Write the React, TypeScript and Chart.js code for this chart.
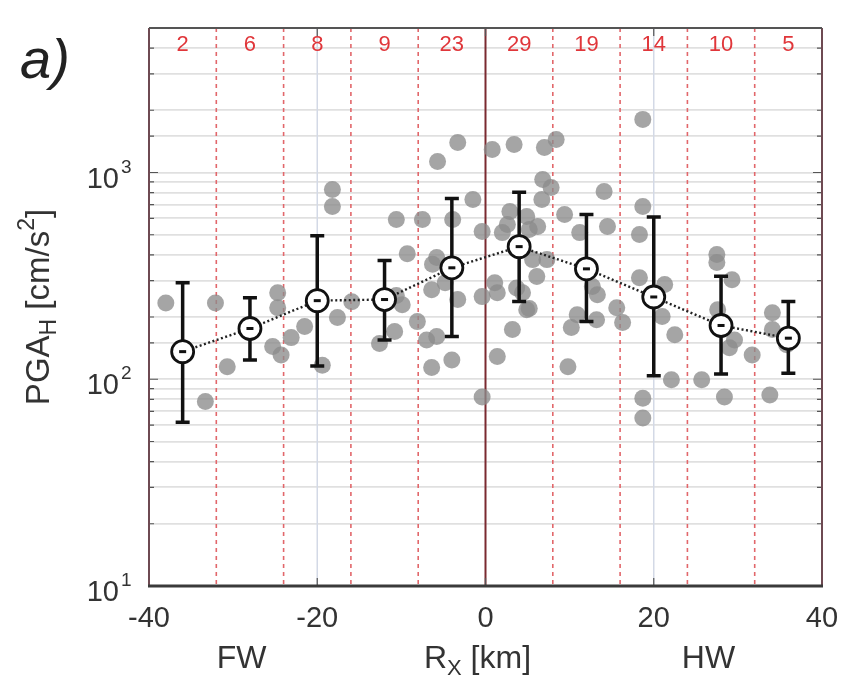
import React, { useEffect, useRef } from "react";
import { Chart, registerables } from "chart.js";

Chart.register(...registerables);

// ---- data ----
const binCenters = [-36, -28, -20, -12, -4, 4, 12, 20, 28, 36];
const binCounts = [2, 6, 8, 9, 23, 29, 19, 14, 10, 5];
const binEdges = [-32, -24, -16, -8, 0, 8, 16, 24, 32];
const meanPGA = [136, 176, 240, 243, 346, 438, 342, 250, 182, 158];
const upperPGA = [293, 248, 495, 375, 748, 803, 626, 610, 315, 238];
const lowerPGA = [62, 124, 116, 155, 161, 238, 190, 104, 106, 107];
const xTickValues = [-40, -20, 0, 20, 40];
const yDecades = [10, 100, 1000];
const yDecadeExp = ["1", "2", "3"];

const recordRx = [
  -38.0, -33.3, -32.1, -30.7, -24.7, -24.7, -25.3, -24.3, -23.1, -21.5,
  -19.4, -18.2, -18.2, -17.6, -15.9, -10.6, -9.3, -10.6, -9.9, -10.8,
  -12.6, -8.1, -7.0, -6.4, -4.0, -7.5, -5.7, -3.3, -1.5, -3.9,
  -5.8, -6.4, -4.8, -3.3, -5.8, -0.4, -0.4, -0.4, 0.8, 1.1,
  1.4, 3.4, 7.0, 8.4, 6.8, 7.8, 6.7, 9.4, 2.9, 2.6,
  4.9, 6.2, 5.2, 2.0, 5.6, 7.3, 6.1, 1.4, 4.4, 4.9,
  3.2, 11.2, 14.5, 14.1, 12.7, 13.3, 10.9, 10.2, 9.8, 13.2,
  15.6, 16.3, 18.7, 18.3, 18.3, 18.7, 18.7, 18.7, 21.3, 21.0,
  22.5, 22.1, 25.7, 27.5, 27.5, 29.3, 27.6, 29.6, 29.0, 28.4,
  31.7, 34.1, 34.1, 33.8, 35.8, -6.3, 5.2, 3.7,
];
const recordPGA = [
  234, 78, 234, 115, 262, 222, 144, 131, 159, 180,
  117, 827, 684, 199, 237, 592, 405, 254, 229, 170,
  149, 190, 155, 114, 124, 592, 1130, 1396, 740, 592,
  388, 271, 293, 243, 161, 518, 251, 82, 1291, 293,
  129, 1367, 1321, 1445, 925, 846, 740, 626, 647, 560,
  612, 548, 530, 512, 379, 379, 314, 262, 262, 217,
  174, 512, 548, 809, 281, 256, 205, 178, 115, 194,
  222, 188, 684, 501, 310, 81, 1807, 65, 287, 201,
  164, 99.5, 99.5, 401, 367, 303, 217, 155, 142, 82,
  131, 210, 174, 84, 147, 360, 220, 276,
];

const FONT = '"Liberation Sans", Arial, Helvetica, sans-serif';

function drawRich(
  ctx: CanvasRenderingContext2D,
  parts: { t: string; size: number; dy: number }[],
  x: number,
  y: number,
  align: "left" | "center" | "right"
) {
  let total = 0;
  const widths = parts.map((p) => {
    ctx.font = `${p.size}px ${FONT}`;
    const w = ctx.measureText(p.t).width;
    total += w;
    return w;
  });
  let cx = align === "left" ? x : align === "center" ? x - total / 2 : x - total;
  ctx.textAlign = "left";
  ctx.textBaseline = "middle";
  parts.forEach((p, i) => {
    ctx.font = `${p.size}px ${FONT}`;
    ctx.fillText(p.t, cx, y + p.dy);
    cx += widths[i];
  });
}

const overlay = {
  id: "overlay",
  beforeDatasetsDraw(chart: any) {
    const { ctx, chartArea: a, scales } = chart;
    const x = scales.x;
    ctx.save();
    ctx.strokeStyle = "#d3d9e6";
    ctx.lineWidth = 1.5;
    [-20, 20].forEach((v) => {
      const px = x.getPixelForValue(v);
      ctx.beginPath();
      ctx.moveTo(px, a.top);
      ctx.lineTo(px, a.bottom);
      ctx.stroke();
    });
    binEdges.forEach((v) => {
      const px = x.getPixelForValue(v);
      ctx.beginPath();
      if (v === 0) {
        ctx.setLineDash([]);
        ctx.strokeStyle = "#7a2a30";
        ctx.lineWidth = 2;
      } else {
        ctx.setLineDash([4, 4]);
        ctx.strokeStyle = "#e2676b";
        ctx.lineWidth = 1.6;
      }
      ctx.moveTo(px, a.top);
      ctx.lineTo(px, a.bottom);
      ctx.stroke();
    });
    ctx.setLineDash([]);
    ctx.restore();
  },
  beforeDatasetDraw(chart: any, args: any) {
    if (args.index !== 0) return;
    const { ctx, scales } = chart;
    const x = scales.x;
    const y = scales.y;
    ctx.save();
    ctx.strokeStyle = "#111";
    ctx.lineWidth = 3.5;
    binCenters.forEach((c, i) => {
      const px = x.getPixelForValue(c);
      const top = y.getPixelForValue(upperPGA[i]);
      const bot = y.getPixelForValue(lowerPGA[i]);
      ctx.beginPath();
      ctx.moveTo(px, top);
      ctx.lineTo(px, bot);
      ctx.moveTo(px - 7, top);
      ctx.lineTo(px + 7, top);
      ctx.moveTo(px - 7, bot);
      ctx.lineTo(px + 7, bot);
      ctx.stroke();
    });
    ctx.restore();
  },
  afterDatasetsDraw(chart: any) {
    const { ctx, scales } = chart;
    const x = scales.x;
    const y = scales.y;
    ctx.save();
    ctx.fillStyle = "#111";
    binCenters.forEach((c, i) => {
      const px = x.getPixelForValue(c);
      const py = y.getPixelForValue(meanPGA[i]);
      ctx.fillRect(px - 3.5, py - 1.5, 7, 3);
    });
    ctx.restore();
  },
  afterDraw(chart: any) {
    const { ctx, chartArea: a, scales } = chart;
    const x = scales.x;
    const y = scales.y;
    ctx.save();
    ctx.strokeStyle = "#555";
    ctx.lineWidth = 1.2;
    y.ticks.forEach((t: any) => {
      const py = y.getPixelForValue(t.value);
      const major = yDecades.includes(t.value);
      const len = major ? 9 : 5;
      ctx.beginPath();
      ctx.moveTo(a.left, py);
      ctx.lineTo(a.left + len, py);
      ctx.moveTo(a.right, py);
      ctx.lineTo(a.right - len, py);
      ctx.stroke();
    });
    xTickValues.forEach((v) => {
      const px = x.getPixelForValue(v);
      ctx.beginPath();
      ctx.moveTo(px, a.bottom);
      ctx.lineTo(px, a.bottom - 8);
      ctx.moveTo(px, a.top);
      ctx.lineTo(px, a.top + 8);
      ctx.stroke();
    });
    ctx.lineWidth = 2;
    ctx.strokeStyle = "#6e4a52";
    ctx.beginPath();
    ctx.moveTo(a.left, a.top);
    ctx.lineTo(a.left, a.bottom);
    ctx.moveTo(a.right, a.top);
    ctx.lineTo(a.right, a.bottom);
    ctx.stroke();
    ctx.strokeStyle = "#555";
    ctx.beginPath();
    ctx.moveTo(a.left, a.top);
    ctx.lineTo(a.right, a.top);
    ctx.stroke();
    ctx.lineWidth = 3;
    ctx.strokeStyle = "#3a3a3a";
    ctx.beginPath();
    ctx.moveTo(a.left - 1, a.bottom);
    ctx.lineTo(a.right + 1, a.bottom);
    ctx.stroke();

    ctx.fillStyle = "#e0363a";
    ctx.font = `22px ${FONT}`;
    ctx.textAlign = "center";
    ctx.textBaseline = "middle";
    binCenters.forEach((c, i) => {
      ctx.fillText(String(binCounts[i]), x.getPixelForValue(c), a.top + 17);
    });

    ctx.fillStyle = "#333";
    ctx.font = `29px ${FONT}`;
    xTickValues.forEach((v) => {
      ctx.fillText(String(v), x.getPixelForValue(v), a.bottom + 33);
    });
    yDecades.forEach((v, i) => {
      const py = y.getPixelForValue(v);
      ctx.font = `29px ${FONT}`;
      ctx.textAlign = "right";
      ctx.fillText("10", a.left - 30, py + 7);
      ctx.font = `19px ${FONT}`;
      ctx.textAlign = "left";
      ctx.fillText(yDecadeExp[i], a.left - 28, py - 5);
    });

    ctx.fillStyle = "#333";
    ctx.font = `32px ${FONT}`;
    ctx.textAlign = "center";
    ctx.fillText("FW", x.getPixelForValue(-29), a.bottom + 73);
    ctx.fillText("HW", x.getPixelForValue(26.5), a.bottom + 73);
    drawRich(
      ctx,
      [
        { t: "R", size: 32, dy: 0 },
        { t: "X", size: 22, dy: 10 },
        { t: " [km]", size: 32, dy: 0 },
      ],
      x.getPixelForValue(0) - 8,
      a.bottom + 73,
      "center"
    );
    ctx.save();
    ctx.translate(40, 307);
    ctx.rotate(-Math.PI / 2);
    drawRich(
      ctx,
      [
        { t: "PGA", size: 33, dy: 0 },
        { t: "H", size: 23, dy: 10 },
        { t: " [cm/s", size: 33, dy: 0 },
        { t: "2", size: 23, dy: -12 },
        { t: "]", size: 33, dy: 0 },
      ],
      0,
      0,
      "center"
    );
    ctx.restore();

    ctx.font = `italic 56px ${FONT}`;
    ctx.textAlign = "left";
    ctx.textBaseline = "alphabetic";
    ctx.fillStyle = "#222";
    ctx.fillText("a)", 20, 78);
    ctx.restore();
  },
};

export default function App() {
  const ref = useRef<HTMLCanvasElement | null>(null);
  useEffect(() => {
    document.body.style.margin = "0";
    const canvas = ref.current;
    if (!canvas) return;
    const scatterPts = recordRx.map((rx, i) => ({ x: rx, y: recordPGA[i] }));
    const meanPts = binCenters.map((c, i) => ({ x: c, y: meanPGA[i] }));
    const chart = new Chart(canvas, {
      type: "scatter",
      data: {
        datasets: [
          {
            type: "line",
            data: meanPts,
            borderColor: "#222",
            borderWidth: 2.4,
            borderDash: [2, 2.5],
            showLine: true,
            fill: false,
            pointRadius: 11,
            pointBackgroundColor: "#ffffff",
            pointBorderColor: "#111",
            pointBorderWidth: 2.8,
          } as any,
          {
            data: scatterPts,
            pointRadius: 8.5,
            pointBackgroundColor: "rgba(140,140,140,0.78)",
            pointBorderWidth: 0,
            borderColor: "rgba(0,0,0,0)",
          },
        ],
      },
      options: {
        responsive: false,
        animation: false,
        events: [],
        layout: { padding: { left: 149, right: 26, top: 28, bottom: 104 } },
        plugins: { legend: { display: false }, tooltip: { enabled: false } },
        scales: {
          x: {
            type: "linear",
            min: -40,
            max: 40,
            ticks: { display: false },
            grid: { display: false, drawTicks: false },
            border: { display: false },
          },
          y: {
            type: "logarithmic",
            min: 10,
            max: 5000,
            ticks: { display: false },
            grid: { color: "#e0e0e0", lineWidth: 1.8, drawTicks: false },
            border: { display: false },
          },
        },
      },
      plugins: [overlay],
    });
    return () => chart.destroy();
  }, []);
  return (
    <div style={{ width: 848, height: 690, background: "#fff" }}>
      <canvas ref={ref} width={848} height={690} style={{ display: "block" }} />
    </div>
  );
}
